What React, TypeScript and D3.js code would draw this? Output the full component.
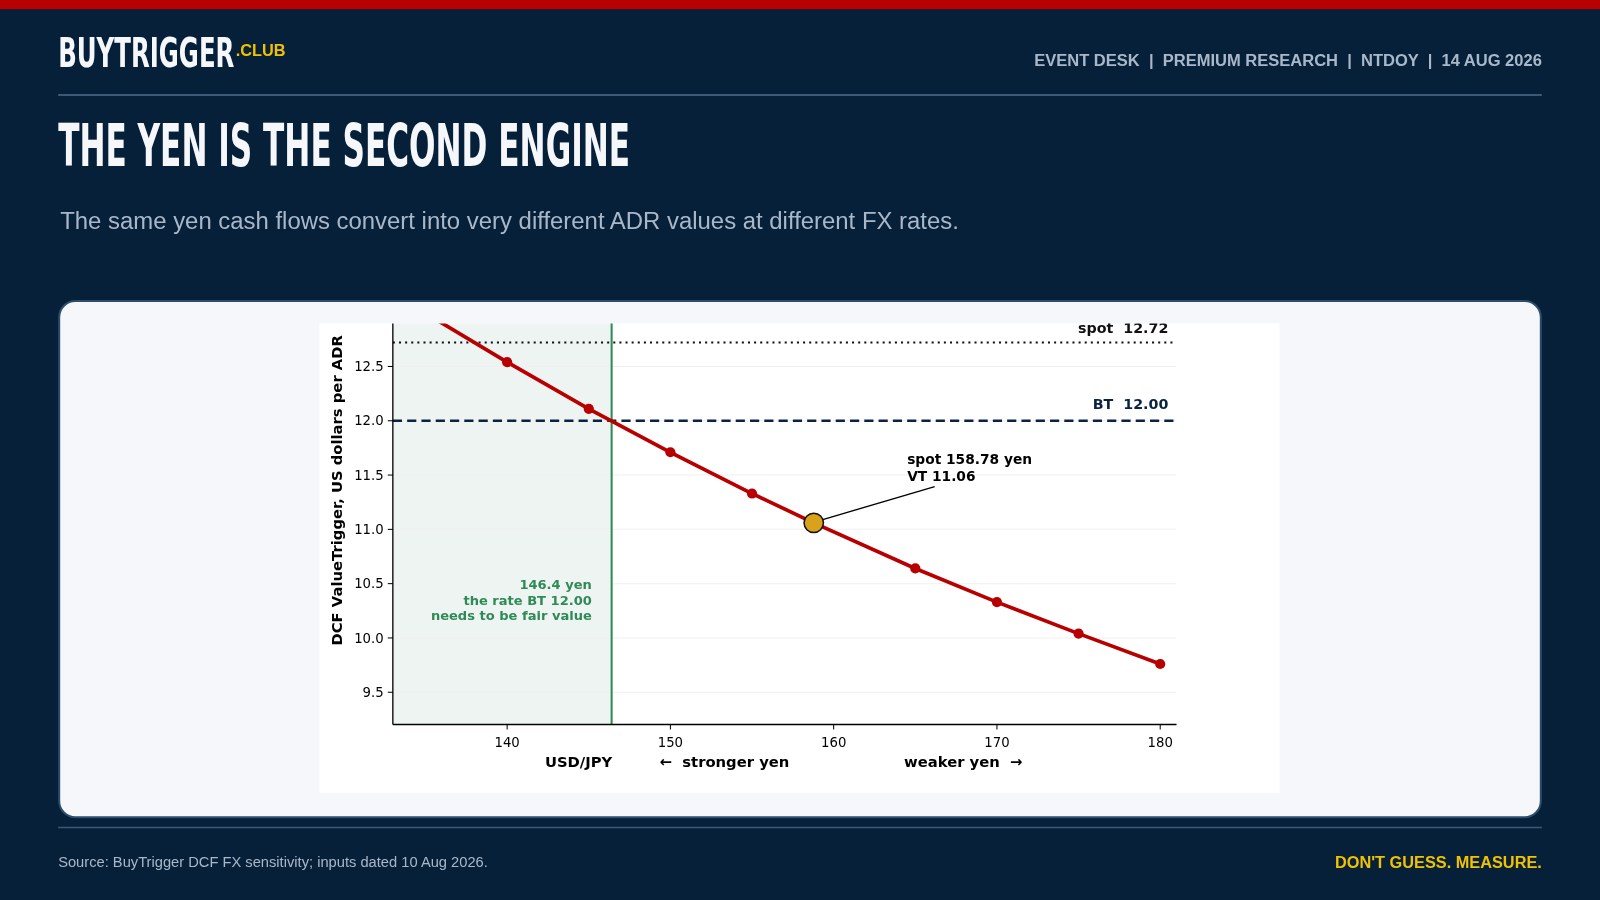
import React from "react";
import * as d3 from "d3";

const fxRates = [135, 140, 145, 150, 155, 165, 170, 175, 180];
const adrValues = [12.99, 12.54, 12.11, 11.71, 11.33, 10.64, 10.33, 10.04, 9.76];
const xTicks = [140, 150, 160, 170, 180];
const yTicks = [9.5, 10.0, 10.5, 11.0, 11.5, 12.0, 12.5];
const spotRate = 158.78;
const spotValue = 11.06;
const btValue = 12.0;
const spotPrice = 12.72;
const breakEvenRate = 146.4;

const W = 1568, H = 882;
const px = { l: 385, r: 1153, t: 317, b: 710 };

export default function App() {
  const x = d3.scaleLinear().domain([133, 181]).range([px.l, px.r]);
  const y = d3.scaleLinear().domain([9.203, 12.896]).range([px.b, px.t]);
  const pts = fxRates.map((r, i) => [r, adrValues[i]] as [number, number]);
  const all = [...pts, [spotRate, spotValue] as [number, number]].sort((a, b) => a[0] - b[0]);
  const line = d3.line<[number, number]>().x(d => x(d[0])).y(d => y(d[1]));
  const font = "'DejaVu Sans', sans-serif";
  const head = "'DejaVu Sans Condensed', 'Liberation Sans Narrow', sans-serif";
  const pre = { whiteSpace: "pre" } as React.CSSProperties;
  return (
    <div style={{ position: "fixed", left: 0, top: 0, width: 1600, height: 900 }}>
      <svg width={1600} height={900} viewBox={`0 0 ${W} ${H}`} style={{ display: "block" }}>
        <defs>
          <clipPath id="plot"><rect x={px.l} y={px.t} width={px.r - px.l} height={px.b - px.t} /></clipPath>
        </defs>
        <rect width={W} height={H} fill="#06203a" />
        <rect width={W} height={9} fill="#b80000" />
        <text x={57} y={66} fill="#f5f7fb" fontFamily={head} fontWeight="bold" fontSize={40} transform="translate(57,0) scale(0.665,1) translate(-57,0)">BUYTRIGGER</text>
        <text x={231} y={55} fill="#f2c200" fontFamily="Arial, 'Liberation Sans', sans-serif" fontWeight="bold" fontSize={16}>.CLUB</text>
        <text x={1511} y={65} textAnchor="end" fill="#a9b8c8" fontFamily="Arial, 'Liberation Sans', sans-serif" fontWeight="bold" fontSize={16.2} style={pre}>EVENT DESK  |  PREMIUM RESEARCH  |  NTDOY  |  14 AUG 2026</text>
        <line x1={57} x2={1511} y1={93} y2={93} stroke="#3b5a78" strokeWidth={2} />
        <text x={57} y={163} fill="#f5f7fb" fontFamily={head} fontWeight="bold" fontSize={58} transform="translate(57,0) scale(0.585,1) translate(-57,0)">THE YEN IS THE SECOND ENGINE</text>
        <text x={59} y={224} fill="#a9b8c8" fontFamily="Arial, 'Liberation Sans', sans-serif" fontSize={23.45}>The same yen cash flows convert into very different ADR values at different FX rates.</text>

        <rect x={58} y={295} width={1452} height={506} rx={16} fill="#f5f7fb" stroke="#2d4d6a" strokeWidth={2} />
        <rect x={313} y={317} width={941} height={460} fill="#ffffff" />
        <rect x={px.l} y={px.t} width={x(breakEvenRate) - px.l} height={px.b - px.t} fill="#eef4f1" />
        {yTicks.map(t => <line key={t} x1={px.l} x2={px.r} y1={y(t)} y2={y(t)} stroke="#f0f0f0" strokeWidth={1} />)}
        <line x1={x(breakEvenRate)} x2={x(breakEvenRate)} y1={px.t} y2={px.b} stroke="#2e8b57" strokeWidth={2} />
        <line x1={px.l} x2={px.r} y1={y(spotPrice)} y2={y(spotPrice)} stroke="#111" strokeWidth={2} strokeDasharray="2 4" />
        <line x1={px.l} x2={px.r} y1={y(btValue)} y2={y(btValue)} stroke="#0b2340" strokeWidth={2.4} strokeDasharray="9 5" />
        <g clipPath="url(#plot)">
          <path d={line(all) || ""} fill="none" stroke="#b80000" strokeWidth={3.6} />
          {pts.map(p => <circle key={p[0]} cx={x(p[0])} cy={y(p[1])} r={5} fill="#b80000" />)}
        </g>
        <line x1={x(spotRate) + 8} y1={y(spotValue) - 3} x2={916} y2={477} stroke="#000" strokeWidth={1.3} />
        <circle cx={x(spotRate)} cy={y(spotValue)} r={9.5} fill="#d9a21b" stroke="#111" strokeWidth={1.5} />
        <text x={889} y={455} fontFamily={font} fontWeight="bold" fontSize={13.5} fill="#000">spot 158.78 yen</text>
        <text x={889} y={471} fontFamily={font} fontWeight="bold" fontSize={13.5} fill="#000">VT 11.06</text>
        <text x={1145} y={401} textAnchor="end" fontFamily={font} fontWeight="bold" fontSize={14} fill="#0b2340" style={pre}>BT  12.00</text>
        <g clipPath="url(#plot)">
          <text x={1145} y={326} textAnchor="end" fontFamily={font} fontWeight="bold" fontSize={14} fill="#111" style={pre}>spot  12.72</text>
        </g>
        {["146.4 yen", "the rate BT 12.00", "needs to be fair value"].map((s, i) => (
          <text key={s} x={580} y={577 + i * 15.5} textAnchor="end" fontFamily={font} fontWeight="bold" fontSize={12.8} fill="#2e8b57">{s}</text>
        ))}
        <line x1={px.l} x2={px.l} y1={px.t} y2={px.b} stroke="#000" strokeWidth={1.3} />
        <line x1={px.l} x2={px.r} y1={px.b} y2={px.b} stroke="#000" strokeWidth={1.3} />
        {yTicks.map(t => (
          <g key={t}>
            <line x1={px.l - 5} x2={px.l} y1={y(t)} y2={y(t)} stroke="#000" />
            <text x={px.l - 9} y={y(t) + 4.5} textAnchor="end" fontFamily={font} fontSize={13} fill="#000">{t.toFixed(1)}</text>
          </g>
        ))}
        {xTicks.map(t => (
          <g key={t}>
            <line x1={x(t)} x2={x(t)} y1={px.b} y2={px.b + 5} stroke="#000" />
            <text x={x(t)} y={px.b + 22} textAnchor="middle" fontFamily={font} fontSize={13} fill="#000">{t}</text>
          </g>
        ))}
        <text x={567} y={752} textAnchor="middle" fontFamily={font} fontWeight="bold" fontSize={14.5}>USD/JPY</text>
        <text x={710} y={752} textAnchor="middle" fontFamily={font} fontWeight="bold" fontSize={14.5} style={pre}>←  stronger yen</text>
        <text x={944} y={752} textAnchor="middle" fontFamily={font} fontWeight="bold" fontSize={14.5} style={pre}>weaker yen  →</text>
        <text transform={`translate(335,${(px.t + 640) / 2 + 2}) rotate(-90)`} textAnchor="middle" fontFamily={font} fontWeight="bold" fontSize={14.5}>DCF ValueTrigger, US dollars per ADR</text>

        <line x1={57} x2={1511} y1={811} y2={811} stroke="#3b5a78" strokeWidth={1.5} />
        <text x={57} y={850} fill="#a9b8c8" fontFamily="Arial, 'Liberation Sans', sans-serif" fontSize={14.4}>Source: BuyTrigger DCF FX sensitivity; inputs dated 10 Aug 2026.</text>
        <text x={1511} y={851} textAnchor="end" fill="#f2c200" fontFamily="Arial, 'Liberation Sans', sans-serif" fontWeight="bold" fontSize={16}>DON'T GUESS. MEASURE.</text>
      </svg>
    </div>
  );
}
